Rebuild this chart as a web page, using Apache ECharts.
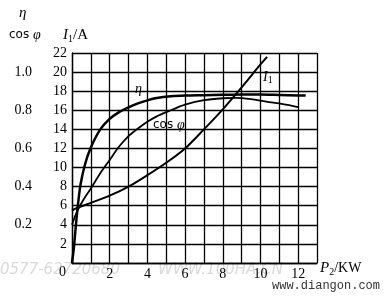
<!DOCTYPE html>
<html><head><meta charset="utf-8">
<script src="https://cdn.jsdelivr.net/npm/echarts@6/dist/echarts.min.js"></script>
<style>html,body{margin:0;padding:0;background:#fff}#c{width:385px;height:299px}</style>
</head><body><div id="c"></div>
<script>
// P2 (kW) tick labels
var xTicks = [0, 2, 4, 6, 8, 10, 12];
var iTicks = [2, 4, 6, 8, 10, 12, 14, 16, 18, 20, 22];
var etaTicks = [0.2, 0.4, 0.6, 0.8, 1.0];
// efficiency curve [P2, eta]
var etaData = [[0,0],[0.1,0.08],[0.2,0.19],[0.3,0.29],[0.45,0.41],[0.7,0.52],[1.0,0.605],[1.5,0.70],[2,0.755],[2.5,0.79],[3,0.815],[3.5,0.836],[4,0.852],[4.5,0.864],[5.25,0.873],[6,0.877],[7,0.879],[8,0.881],[9,0.882],[10,0.882],[11,0.88],[12,0.878],[12.4,0.877]];
// power factor curve [P2, cos phi]
var cosData = [[0,0.2],[0.27,0.27],[0.6,0.33],[1.0,0.39],[1.5,0.47],[2,0.54],[2.5,0.61],[3,0.665],[3.5,0.705],[4,0.74],[4.5,0.768],[5,0.79],[6,0.83],[7,0.853],[8,0.863],[8.7,0.865],[9.5,0.858],[10.3,0.845],[11.2,0.832],[12,0.817]];
// stator current [P2, I1]
var iData = [[0,5.5],[0.3,5.8],[1,6.3],[2,7.05],[3,8.0],[4,9.2],[5,10.5],[6,12.0],[7,14.0],[8,16.1],[9,18.4],[10,20.8],[10.35,21.6]];

var serif = '"Liberation Serif","DejaVu Serif",serif';
var chart = echarts.init(document.getElementById('c'), null, {renderer:'canvas'});
chart.setOption({
  animation:false,
  backgroundColor:'#fff',
  grid:{left:72, top:53, width:245, height:210},
  xAxis:{type:'value', min:0, max:13, interval:1,
    axisLine:{show:true, lineStyle:{color:'#000', width:1.3}},
    axisTick:{show:false},
    splitLine:{show:true, lineStyle:{color:'#000', width:1.3}},
    axisLabel:{color:'#000', fontFamily:serif, fontSize:14, margin:4,
      formatter:function(v){ return (xTicks.indexOf(v)>=0 && v!==0) ? String(v) : ''; }}
  },
  yAxis:[
    {type:'value', min:0, max:22, interval:2, position:'left',
      axisLine:{show:true, lineStyle:{color:'#000', width:1.3}},
      axisTick:{show:false},
      splitLine:{show:true, lineStyle:{color:'#000', width:1.3}},
      axisLabel:{color:'#000', fontFamily:serif, fontSize:14, margin:5,
        formatter:function(v){ return iTicks.indexOf(v)>=0 ? String(v) : ''; }}
    },
    {type:'value', min:0, max:1.1, interval:0.1, position:'left', offset:36,
      axisLine:{show:false}, axisTick:{show:false}, splitLine:{show:false},
      axisLabel:{color:'#000', fontFamily:serif, fontSize:14, margin:4,
        formatter:function(v){ var r=Math.round(v*10)/10; return etaTicks.indexOf(r)>=0 && Math.abs(v-r)<1e-6 ? r.toFixed(1) : ''; }}
    }
  ],
  series:[
    {type:'line', name:'eta', yAxisIndex:1, data:etaData, smooth:0.3, showSymbol:false,
      lineStyle:{color:'#000', width:2.5}},
    {type:'line', name:'cos', yAxisIndex:1, data:cosData, smooth:0.3, showSymbol:false,
      lineStyle:{color:'#000', width:1.8}},
    {type:'line', name:'I1', yAxisIndex:0, data:iData, smooth:0.3, showSymbol:false,
      lineStyle:{color:'#000', width:2}}
  ],
  graphic:[
    {type:'text', left:19, top:6, style:{text:'η', font:'italic 15px '+serif, fill:'#000'}},
    {type:'text', left:9, top:28, style:{rich:{a:{font:'12px "DejaVu Sans",sans-serif', fill:'#000'}, b:{font:'italic 14px '+serif, fill:'#000'}}, text:'{a|cos }{b|φ}'}},
    {type:'text', left:63, top:28, style:{rich:{a:{font:'italic 15px '+serif, fill:'#000'}, s:{font:'10px '+serif, fill:'#000', padding:[8,0,0,0]}, c:{font:'15px '+serif, fill:'#000'}}, text:'{a|I}{s|1}{c|/A}'}},
    {type:'text', left:135, top:82, style:{text:'η', font:'italic 14px '+serif, fill:'#000'}},
    {type:'text', left:153, top:118, style:{rich:{a:{font:'12px "DejaVu Sans",sans-serif', fill:'#000'}, b:{font:'italic 14px '+serif, fill:'#000'}}, text:'{a|cos }{b|φ}'}},
    {type:'text', left:263, top:70, style:{rich:{a:{font:'italic 14px '+serif, fill:'#000'}, s:{font:'10px '+serif, fill:'#000', padding:[7,0,0,0]}}, text:'{a|I}{s|1}'}},
    {type:'text', left:59, top:265, style:{text:'0', font:'14px '+serif, fill:'#000'}},
    {type:'text', left:320, top:261, style:{rich:{a:{font:'italic 15px '+serif, fill:'#000'}, s:{font:'10px '+serif, fill:'#000', padding:[7,0,0,0]}, c:{font:'14px '+serif, fill:'#000'}}, text:'{a|P}{s|2}{c|/KW}'}},
    {type:'text', left:0, top:263, style:{text:'0577-62720680        WWW.100HA.CN', font:'italic 15px "DejaVu Sans",sans-serif', fill:'rgba(160,160,160,0.4)'}},
    {type:'text', left:272, top:280, style:{text:'www.diangon.com', font:'12px "Liberation Mono","DejaVu Sans Mono",monospace', fill:'#333'}}
  ]
});
</script>
</body></html>
